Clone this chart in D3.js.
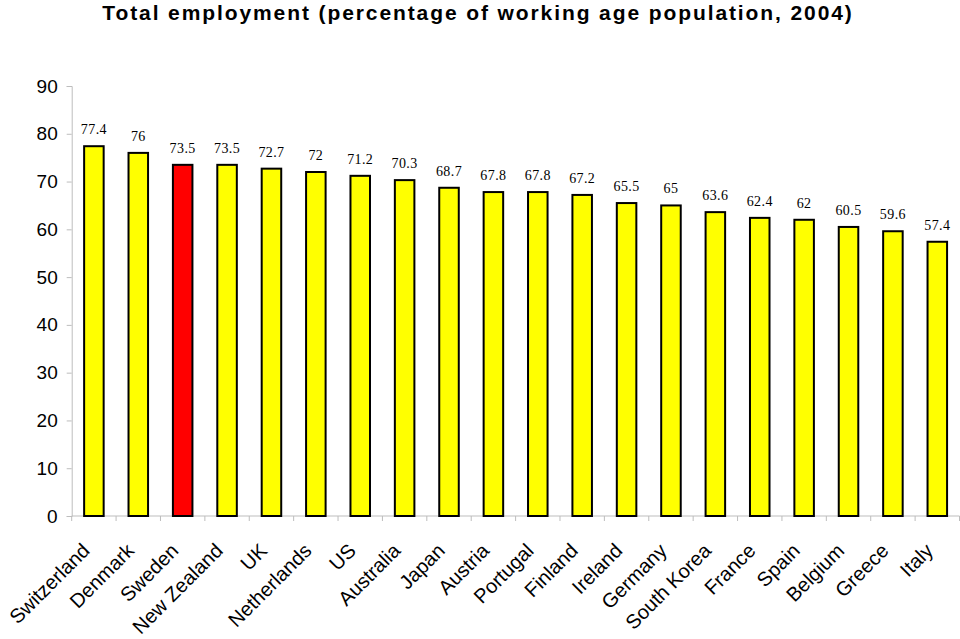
<!DOCTYPE html>
<html><head><meta charset="utf-8">
<script src="https://cdn.jsdelivr.net/npm/d3@7"></script>
<style>body{margin:0;background:#fff}svg{display:block}</style>
</head><body>
<svg id="chart" width="960" height="639"></svg>
<script>
const countries = ["Switzerland","Denmark","Sweden","New Zealand","UK","Netherlands","US","Australia","Japan","Austria","Portugal","Finland","Ireland","Germany","South Korea","France","Spain","Belgium","Greece","Italy"];
const values = [77.4,76,73.5,73.5,72.7,72,71.2,70.3,68.7,67.8,67.8,67.2,65.5,65,63.6,62.4,62,60.5,59.6,57.4];
const highlight = ["Sweden"];
const yTicks = [0,10,20,30,40,50,60,70,80,90];
const title = "Total employment (percentage of working age population, 2004)";

const svg = d3.select("#chart");
const x = d3.scaleBand().domain(countries).range([71.7, 959.5]).paddingInner(0.56).paddingOuter(0.28);
const y = d3.scaleLinear().domain([0,90]).range([516,86]);

svg.append("text").attr("x",478).attr("y",20).attr("text-anchor","middle")
  .attr("font-family","Liberation Sans, Arial, sans-serif").attr("font-weight","bold").attr("font-size",21)
  .attr("letter-spacing",1.9)
  .text(title);

// y axis
const ya = svg.append("g").attr("transform","translate(71.7,0)")
  .call(d3.axisLeft(y).tickValues(yTicks).tickSize(5).tickPadding(9));
ya.select(".domain").attr("stroke","#bdbdbd");
ya.selectAll(".tick line").attr("stroke","#bdbdbd");
ya.selectAll(".tick text").attr("font-family","Liberation Sans, Arial, sans-serif").attr("font-size",19).attr("fill","#000");

// x axis baseline with separator ticks
const step = x.step();
const bounds = d3.range(countries.length+1).map(i => x.range()[0] + i*step);
svg.append("line").attr("x1",71.7).attr("x2",959.5).attr("y1",y(0)).attr("y2",y(0)).attr("stroke","#bdbdbd");
svg.selectAll(".xsep").data(bounds).join("line").attr("class","xsep")
  .attr("x1",d=>d).attr("x2",d=>d).attr("y1",y(0)).attr("y2",y(0)+5).attr("stroke","#bdbdbd");

// bars
svg.selectAll(".bar").data(countries).join("rect").attr("class","bar")
  .attr("x",d=>x(d)).attr("width",x.bandwidth())
  .attr("y",(d,i)=>y(values[i])).attr("height",(d,i)=>y(0)-y(values[i]))
  .attr("fill",d=>highlight.includes(d)?"#ff0000":"#ffff00")
  .attr("stroke","#000").attr("stroke-width",2);

// value labels
svg.selectAll(".val").data(countries).join("text").attr("class","val")
  .attr("x",d=>x(d)+x.bandwidth()/2).attr("y",(d,i)=>y(values[i])-12)
  .attr("text-anchor","middle").attr("font-family","Liberation Serif, Times New Roman, serif")
  .attr("font-size",14).attr("letter-spacing",0.4)
  .text((d,i)=>values[i]);

// x labels
svg.selectAll(".xl").data(countries).join("text").attr("class","xl")
  .attr("transform",d=>`translate(${x(d)+x.bandwidth()/2-3},552) rotate(-45)`)
  .attr("text-anchor","end").attr("font-family","Liberation Sans, Arial, sans-serif").attr("font-size",20)
  .text(d=>d);
</script>
</body></html>
